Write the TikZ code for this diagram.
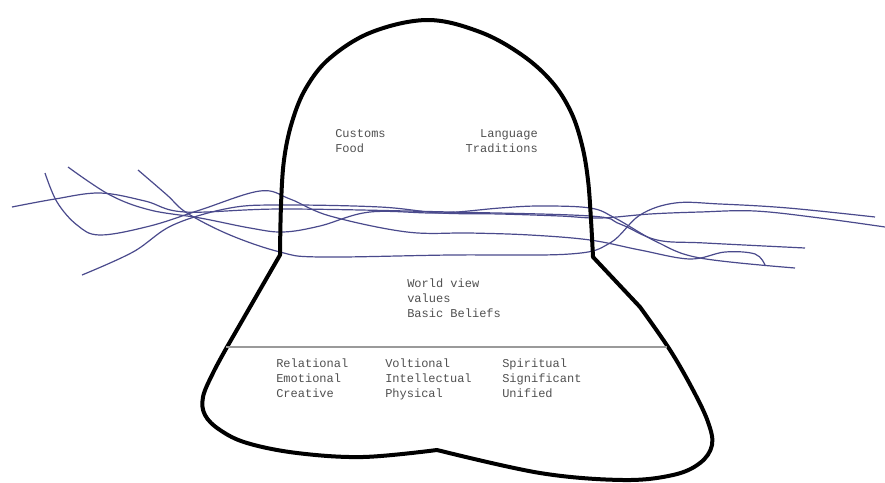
\documentclass[tikz,border=0pt]{standalone}
\usepackage{fontspec}
\setmonofont{Liberation Mono}
\usetikzlibrary{positioning}
\definecolor{weave}{HTML}{4A4A8C}
\definecolor{inkgrey}{HTML}{505050}
\definecolor{rulegrey}{HTML}{9A9A9A}

\begin{document}
\begin{tikzpicture}[x=0.75pt, y=-0.75pt,
  outline/.style={line width=3pt, line join=round},
  thread/.style={weave, line width=0.9pt},
  divider/.style={rulegrey, line width=0.9pt},
  txt/.style={inner sep=0pt, align=left, font=\fontsize{9}{11.25}\selectfont\ttfamily, text=inkgrey, anchor=base west}]
\useasboundingbox (0,0) rectangle (885,482);
% threads crossing the water line
\draw[thread] plot[smooth, tension=0.6] coordinates {(12,207) (55,199) (100,193) (145,201) (185,212) (283,209) (450,212) (590,216) (620,224) (657,240) (705,243) (805,248)};
\draw[thread] plot[smooth, tension=0.6] coordinates {(45,173) (57,202) (77,225) (100,235) (150,226) (200,210) (260,191) (290,199) (330,216) (407,232) (470,233) (530,235) (590,240) (640,250) (690,259) (725,252) (755,254) (765,265)};
\draw[thread] plot[smooth, tension=0.6] coordinates {(68,167) (110,195) (150,210) (200,218) (250,228) (283,232) (320,226) (370,212) (440,213) (500,208) (540,206) (590,208) (615,218) (657,242) (700,258) (795,268)};
\draw[thread] plot[smooth, tension=0.6] coordinates {(138,170) (167,195) (187,213) (230,235) (280,252) (320,257) (450,255) (570,254) (610,243) (640,215) (675,203) (720,204) (788,208) (875,217)};
\draw[thread] plot[smooth, tension=0.6] coordinates {(82,275) (133,252) (173,225) (230,208) (283,205) (380,207) (440,213) (500,214) (560,216) (600,218) (650,214) (700,212) (755,211) (820,218) (885,227)};
% iceberg outline
\draw[outline] (280,255)
  -- plot[smooth, tension=0.6] coordinates {(280,255) (281,205) (284,160) (292,122) (306,88) (330,58) (372,32) (428,20) (480,32) (522,55) (552,82) (571,112) (582,145) (588,180) (591,220) (593,257)}
  -- (640,307)
  -- plot[smooth, tension=0.6] coordinates {(640,307) (670,350) (693,390) (708,422) (712,445) (700,463) (673,475) (623,480) (540,473) (437,450)}
  -- plot[smooth, tension=0.6] coordinates {(437,450) (363,457) (297,453) (247,443) (220,430) (205,415) (203,397) (213,373) (227,347)}
  -- cycle;
\draw[divider] (226,347) -- (667,347);
% labels (base anchor sits on the last line)
\node[txt] (customs) at (335,152) {Customs\\Food};
\node[txt, align=right, anchor=base east] (language) at (538,152) {Language\\Traditions};
\node[txt] (worldview) at (407,317) {World view\\values\\Basic Beliefs};
\node[txt] (relational) at (276,397) {Relational\\Emotional\\Creative};
\node[txt] (voltional) at (385,397) {Voltional\\Intellectual\\Physical};
\node[txt] (spiritual) at (502,397) {Spiritual\\Significant\\Unified};
\end{tikzpicture}
\end{document}
